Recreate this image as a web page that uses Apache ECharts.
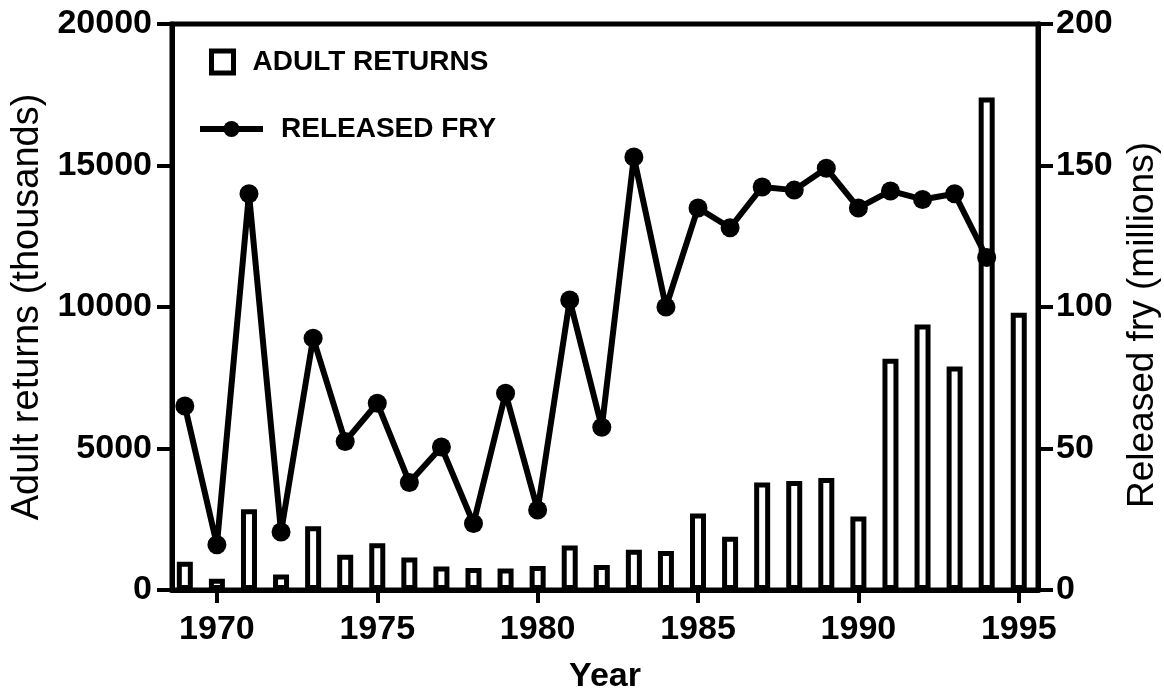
<!DOCTYPE html>
<html>
<head>
<meta charset="utf-8">
<script src="https://cdn.jsdelivr.net/npm/echarts@6/dist/echarts.min.js"></script>
<style>
  html, body { margin: 0; padding: 0; background: #fff; }
  #chart { width: 1164px; height: 690px; }
</style>
</head>
<body>
<div id="chart"></div>
<script>
// years and values
var years = [1969, 1970, 1971, 1972, 1973, 1974, 1975, 1976, 1977, 1978, 1979,
  1980, 1981, 1982, 1983, 1984, 1985, 1986, 1987, 1988, 1989, 1990, 1991,
  1992, 1993, 1994, 1995];
// adult returns, thousands
var adultReturns = [1000, 400, 2850, 550, 2250, 1250, 1650, 1150, 830, 780, 760,
  850, 1570, 880, 1420, 1380, 2700, 1880, 3800, 3850, 3960, 2600, 8170,
  9380, 7900, 17400, 9800];
// released fry, millions (no value for 1995)
var releasedFry = [65, 16, 140, 20.5, 89, 52.5, 66, 38, 50.5, 23.5, 69.5,
  28.3, 102.5, 57.5, 153, 100, 135, 128, 142.4, 141.3, 149, 135, 141,
  138, 140, 117.5, null];
var yearTicks = [1970, 1975, 1980, 1985, 1990, 1995];

var FONT = '"Liberation Sans", Arial, Helvetica, sans-serif';

function pairs(xs, ys){
	var out = [];
	for (var i = 0; i < xs.length; i++) {
		if (ys[i] !== null) out.push([xs[i], ys[i]]);
	}
	return out;
}

var chart = echarts.init(document.getElementById('chart'));

var option = {
	animation: false,
	backgroundColor: '#fff',
	textStyle: { fontFamily: FONT, color: '#000' },
	grid: {
		left: 172,
		right: 126,
		top: 24,
		bottom: 100,
		outerBoundsMode: 'none',
		containLabel: false,
		show: true,
		borderColor: '#000',
		borderWidth: 5,
		backgroundColor: 'transparent'
	},
	legend: [{
		data: ['ADULT RETURNS'],
		left: 204,
		top: 43,
		icon: 'rect',
		itemWidth: 22,
		itemHeight: 22,
		itemStyle: { color: '#fff', borderColor: '#000', borderWidth: 5 },
		textStyle: { fontFamily: FONT, fontWeight: 'bold', fontSize: 28, color: '#000', padding: [0, 0, 0, 14] }
	}, {
		data: ['RELEASED FRY'],
		left: 192,
		top: 110,
		itemWidth: 63,
		itemHeight: 20,
		itemStyle: { color: '#000' },
		lineStyle: { color: '#000', width: 6 },
		textStyle: { fontFamily: FONT, fontWeight: 'bold', fontSize: 28, color: '#000', padding: [0, 0, 0, 13] }
	}],
	xAxis: {
		type: 'value',
		min: 1968.6,
		max: 1995.6,
		name: 'Year',
		nameLocation: 'middle',
		nameGap: 70,
		nameTextStyle: { fontFamily: FONT, fontWeight: 'bold', fontSize: 34, color: '#000' },
		splitLine: { show: false },
		axisLine: { onZero: false, lineStyle: { color: '#000', width: 5 } },
		axisTick: { customValues: yearTicks, length: 13, lineStyle: { color: '#000', width: 4 } },
		axisLabel: {
			customValues: yearTicks,
			margin: 23,
			fontFamily: FONT, fontWeight: 'bold', fontSize: 34, color: '#000',
			formatter: function(v){ return String(v); }
		}
	},
	yAxis: [{
		type: 'value',
		min: 0,
		max: 20000,
		interval: 5000,
		position: 'left',
		name: 'Adult returns (thousands)',
		nameLocation: 'middle',
		nameRotate: 90,
		nameGap: 121,
		nameTextStyle: { fontFamily: FONT, fontSize: 38, color: '#000' },
		splitLine: { show: false },
		axisLine: { show: true, lineStyle: { color: '#000', width: 5 } },
		axisTick: { show: true, length: 15, lineStyle: { color: '#000', width: 4 } },
		axisLabel: {
			margin: 20,
			fontFamily: FONT, fontWeight: 'bold', fontSize: 34, color: '#000',
			formatter: function(v){ return String(v); }
		}
	}, {
		type: 'value',
		min: 0,
		max: 200,
		interval: 50,
		position: 'right',
		name: 'Released fry (millions)',
		nameLocation: 'middle',
		nameRotate: 90,
		nameGap: 86,
		nameTextStyle: { fontFamily: FONT, fontSize: 37, color: '#000', padding: [0, 36, 0, 0] },
		splitLine: { show: false },
		axisLine: { show: true, lineStyle: { color: '#000', width: 5 } },
		axisTick: { show: true, length: 15, lineStyle: { color: '#000', width: 4 } },
		axisLabel: {
			margin: 18,
			fontFamily: FONT, fontWeight: 'bold', fontSize: 34, color: '#000'
		}
	}],
	series: [{
		name: 'ADULT RETURNS',
		type: 'bar',
		yAxisIndex: 0,
		barWidth: 16,
		itemStyle: { color: '#fff', borderColor: '#000', borderWidth: 5 },
		data: pairs(years, adultReturns),
		z: 2
	}, {
		name: 'RELEASED FRY',
		type: 'line',
		yAxisIndex: 1,
		symbol: 'circle',
		symbolSize: 19,
		itemStyle: { color: '#000' },
		lineStyle: { color: '#000', width: 6 },
		data: pairs(years, releasedFry),
		z: 3
	}]
};

chart.setOption(option);
</script>
</body>
</html>
